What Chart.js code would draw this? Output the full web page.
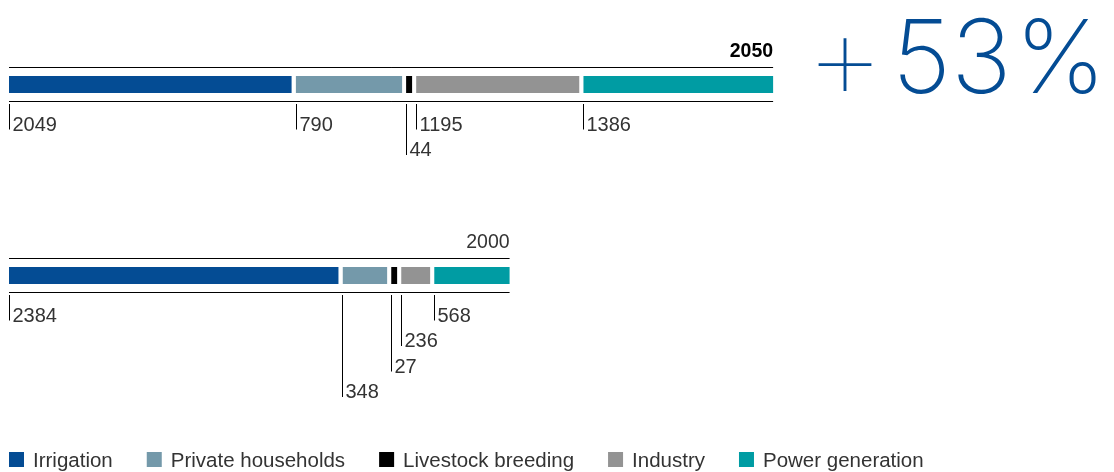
<!DOCTYPE html>
<html>
<head>
<meta charset="utf-8">
<script src="https://cdn.jsdelivr.net/npm/chart.js@4.4.1/dist/chart.umd.min.js"></script>
<style>
  html, body { margin: 0; padding: 0; background: #fff; }
  #wrap { width: 1114px; height: 472px; }
</style>
</head>
<body>
<div id="wrap"><canvas id="waterChart" width="1114" height="472"></canvas></div>
<script>
var years = ["2050", "2000"];
var sectors = ["Irrigation", "Private households", "Livestock breeding", "Industry", "Power generation"];
var irrigation = [2049, 2384];
var households = [790, 348];
var livestock = [44, 27];
var industry = [1195, 236];
var power = [1386, 568];

var colors = ["#044c94", "#7499aa", "#000000", "#939393", "#009ca3"];
// which row under the bar each value label drops to, per year
var labelRows = [[0, 0, 1, 0, 0], [0, 3, 2, 1, 0]];

var GAP = 4;       // white gap after each segment
var MIN_SEG = 10;  // narrowest segment, gap included
var textColor = "#333";
var font = "'Liberation Sans', Arial, sans-serif";

var series = [irrigation, households, livestock, industry, power];
var totals = years.map(function(y, i) {
  return series.reduce(function(sum, s) { return sum + s[i]; }, 0);
});
var growth = Math.round((totals[0] / totals[1] - 1) * 100);

// widen tiny segments so they stay visible, pushing the rest to the right
var minWidth = {
  id: 'minWidth',
  afterDatasetsUpdate: function(chart) {
    years.forEach(function(y, i) {
      var shift = 0;
      chart.data.datasets.forEach(function(ds, d) {
        var bar = chart.getDatasetMeta(d).data[i];
        bar.base += shift;
        bar.x += shift;
        if (bar.x - bar.base < MIN_SEG) {
          shift += MIN_SEG - (bar.x - bar.base);
          bar.x = bar.base + MIN_SEG;
        }
      });
    });
  }
};

// rules above/below each bar, year title, value labels on leader lines
var annotate = {
  id: 'annotate',
  afterDatasetsDraw: function(chart) {
    var ctx = chart.ctx;
    ctx.save();
    ctx.strokeStyle = '#000';
    ctx.lineWidth = 1;
    years.forEach(function(year, i) {
      var bars = chart.data.datasets.map(function(ds, d) {
        return chart.getDatasetMeta(d).data[i];
      });
      var first = bars[0], last = bars[bars.length - 1];
      var top = first.y - first.height / 2;
      var bottom = first.y + first.height / 2;
      var x0 = first.base, x1 = last.x - GAP;
      var ruleTop = top - 8.5, ruleBottom = bottom + 8.5;

      ctx.beginPath();
      ctx.moveTo(x0, ruleTop); ctx.lineTo(x1, ruleTop);
      ctx.moveTo(x0, ruleBottom); ctx.lineTo(x1, ruleBottom);
      ctx.stroke();

      ctx.font = (i === 0 ? 'bold ' : '') + '19.5px ' + font;
      ctx.fillStyle = i === 0 ? '#000' : textColor;
      ctx.textAlign = 'right';
      ctx.textBaseline = 'alphabetic';
      ctx.fillText(year, x1, ruleTop - 11);

      ctx.font = '20px ' + font;
      ctx.textAlign = 'left';
      ctx.fillStyle = textColor;
      bars.forEach(function(bar, d) {
        var x = Math.round(bar.base) + 0.5;
        var y0 = ruleBottom + 2.5;
        var y1 = y0 + 25.5 + labelRows[i][d] * 25.5;
        ctx.beginPath();
        ctx.moveTo(x, y0); ctx.lineTo(x, y1);
        ctx.stroke();
        ctx.fillText(String(chart.data.datasets[d].data[i]), x + 3, y1 + 1);
      });
    });
    ctx.restore();
  }
};

// big growth figure and the legend row
var extras = {
  id: 'extras',
  afterDraw: function(chart) {
    var ctx = chart.ctx;
    ctx.save();
    ctx.fillStyle = colors[0];
    ctx.textBaseline = 'alphabetic';
    ctx.textAlign = 'center';
    ctx.font = "100 128px Inter, Lato, sans-serif";
    var m = ctx.measureText('+');
    // centre the plus on its own ink box
    var py = 64 + (m.actualBoundingBoxAscent - m.actualBoundingBoxDescent) / 2;
    ctx.fillText('+', 845, py);

    ctx.textAlign = 'left';
    ctx.font = "200 102px Inter, Lato, sans-serif";
    ctx.fillText(String(growth), 892, 93);
    ctx.textAlign = 'right';
    ctx.fillText('%', 1106, 93);

    ctx.font = '20.5px ' + font;
    ctx.textAlign = 'left';
    var x = 9;
    chart.data.datasets.forEach(function(ds) {
      ctx.fillStyle = ds.backgroundColor;
      ctx.fillRect(x, 452, 15, 15);
      ctx.fillStyle = textColor;
      ctx.fillText(ds.label, x + 24, 467);
      x += 24 + ctx.measureText(ds.label).width + 34;
    });
    ctx.restore();
  }
};

var ctx = document.getElementById('waterChart').getContext('2d');
var chart = new Chart(ctx, {
  type: 'bar',
  data: {
    labels: years,
    datasets: sectors.map(function(name, d) {
      return {
        label: name,
        data: series[d],
        backgroundColor: colors[d],
        clip: false
      };
    })
  },
  options: {
    indexAxis: 'y',
    responsive: false,
    animation: false,
    events: [],
    layout: { padding: { top: 84.5, bottom: 196.5, left: 9, right: 0 } },
    datasets: {
      bar: {
        barThickness: 17,
        borderColor: '#fff',
        borderWidth: { top: 0, right: GAP, bottom: 0, left: 0 },
        borderSkipped: false,
        inflateAmount: 0
      }
    },
    scales: {
      x: { stacked: true, display: false, min: 0, max: 7900 },
      y: { stacked: true, display: false, offset: false }
    },
    plugins: {
      legend: { display: false },
      tooltip: { enabled: false }
    }
  },
  plugins: [minWidth, annotate, extras]
});
</script>
</body>
</html>
